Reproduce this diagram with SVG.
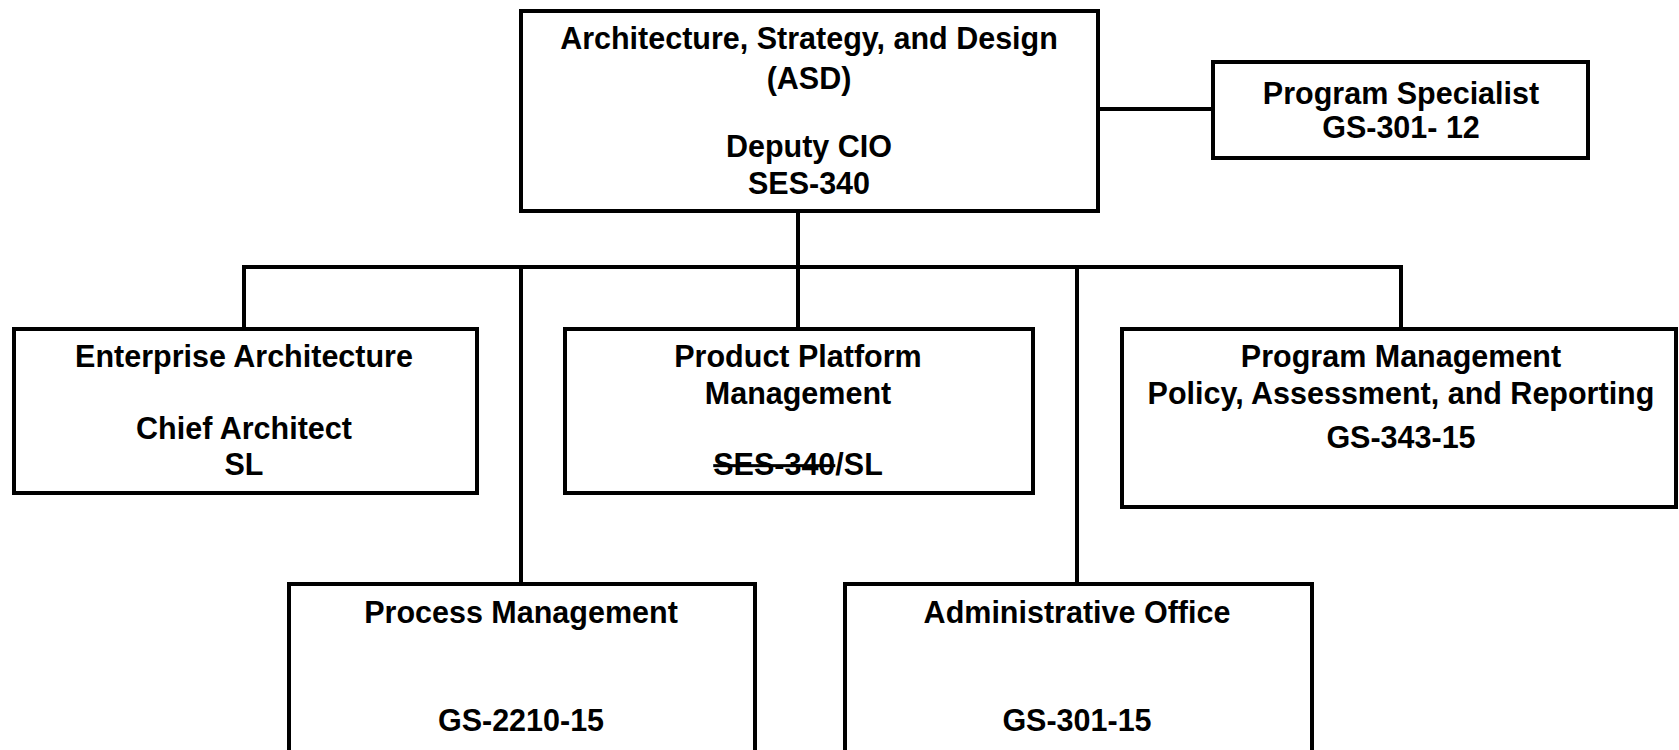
<svg xmlns="http://www.w3.org/2000/svg" width="1679" height="750" viewBox="0 0 1679 750">
<style>
.box{fill:#fff;stroke:#000;stroke-width:4}
.ln{fill:none;stroke:#000;stroke-width:4}
text{font-family:"Liberation Sans",Arial,sans-serif;font-weight:bold;font-size:30.5px;fill:#000;text-anchor:middle}
</style>
<rect width="1679" height="750" fill="#fff"/>
<g id="connectors">
<line class="ln" x1="1098" y1="109" x2="1213" y2="109"/>
<line class="ln" x1="798" y1="211" x2="798" y2="329"/>
<polyline class="ln" points="244,329 244,267 1401,267 1401,329"/>
<line class="ln" x1="521" y1="267" x2="521" y2="584"/>
<line class="ln" x1="1077" y1="267" x2="1077" y2="584"/>
</g>
<g id="asd">
<rect class="box" x="521" y="11" width="577" height="200"/>
<text x="809" y="49">Architecture, Strategy, and Design</text>
<text x="809" y="89">(ASD)</text>
<text x="809" y="157">Deputy CIO</text>
<text x="809" y="194">SES-340</text>
</g>
<g id="program-specialist">
<rect class="box" x="1213" y="62" width="375" height="96"/>
<text x="1401" y="104">Program Specialist</text>
<text x="1401" y="138">GS-301- 12</text>
</g>
<g id="enterprise-architecture">
<rect class="box" x="14" y="329" width="463" height="164"/>
<text x="244" y="367">Enterprise Architecture</text>
<text x="244" y="439">Chief Architect</text>
<text x="244" y="475">SL</text>
</g>
<g id="product-platform">
<rect class="box" x="565" y="329" width="468" height="164"/>
<text x="798" y="367">Product Platform</text>
<text x="798" y="404">Management</text>
<text x="798" y="475"><tspan text-decoration="line-through">SES-340</tspan>/SL</text>
</g>
<g id="program-management">
<rect class="box" x="1122" y="329" width="554" height="178"/>
<text x="1401" y="367">Program Management</text>
<text x="1401" y="404">Policy, Assessment, and Reporting</text>
<text x="1401" y="448">GS-343-15</text>
</g>
<g id="process-management">
<rect class="box" x="289" y="584" width="466" height="168"/>
<text x="521" y="623">Process Management</text>
<text x="521" y="731">GS-2210-15</text>
</g>
<g id="administrative-office">
<rect class="box" x="845" y="584" width="467" height="168"/>
<text x="1077" y="623">Administrative Office</text>
<text x="1077" y="731">GS-301-15</text>
</g>
</svg>
